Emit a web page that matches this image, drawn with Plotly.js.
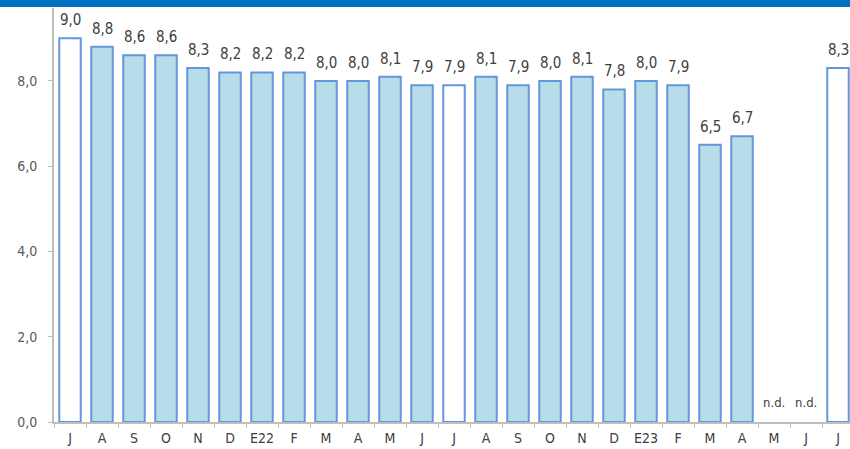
<!DOCTYPE html>
<html><head><meta charset="utf-8">
<script src="https://cdn.plot.ly/plotly-3.0.1.min.js"></script>
<style>html,body{margin:0;padding:0;overflow:hidden;background:#fff;width:850px;height:449px;}
#band{position:absolute;left:0;top:0;width:850px;height:7px;background:#0070C0;z-index:5;}
#chart{position:absolute;left:0;top:0;}</style>
</head><body>
<div id="band"></div>
<div id="chart"></div>
<script>
const monthLabels = ["J","A","S","O","N","D","E22","F","M","A","M","J","J","A","S","O","N","D","E23","F","M","A","M","J","J"];
const values = [9.0,8.8,8.6,8.6,8.3,8.2,8.2,8.2,8.0,8.0,8.1,7.9,7.9,8.1,7.9,8.0,8.1,7.8,8.0,7.9,6.5,6.7,null,null,8.3];
const highlighted = [true,false,false,false,false,false,false,false,false,false,false,false,true,false,false,false,false,false,false,false,false,false,false,false,true];

const idx = monthLabels.map((_, i) => i);
const fillColors = highlighted.map(h => h ? "#FFFFFF" : "#B7DDE8");
const fontFam = "'Liberation Sans Narrow','DejaVu Sans Condensed','Arial Narrow',Roboto,sans-serif";

const annotations = [];
values.forEach((v, i) => {
  if (v === null) {
    annotations.push({x: i, y: 0, xref: 'x', yref: 'y', text: 'n.d.', showarrow: false,
      yanchor: 'bottom', yshift: 10, font: {family: fontFam, size: 13, color: '#404040'}});
  } else {
    annotations.push({x: i, y: v, xref: 'x', yref: 'y', text: v.toFixed(1).replace('.', ','), showarrow: false,
      yanchor: 'bottom', yshift: 7, font: {family: fontFam, size: 15, color: '#404040'}});
  }
});

const trace = {
  type: 'bar', x: idx, y: values,
  marker: {color: fillColors, line: {color: '#6495DD', width: 2}},
  hoverinfo: 'skip'
};

const layout = {
  width: 858, height: 449,
  margin: {l: 54, r: 4, t: 8, b: 27},
  paper_bgcolor: '#fff', plot_bgcolor: '#fff',
  separators: ',.',
  bargap: 0.33,
  showlegend: false,
  xaxis: {type: 'category', tickvals: idx, ticktext: monthLabels, tickson: 'boundaries', tickangle: 0,
    ticks: 'outside', ticklen: 4, tickcolor: '#BFBFBF', showline: true, linecolor: '#BFBFBF', linewidth: 2,
    showgrid: false, zeroline: false, tickfont: {family: fontFam, size: 14, color: '#404040'}, ticklabelstandoff: 2},
  yaxis: {range: [0, 9.71], dtick: 2, tick0: 0, tickformat: '.1f', ticks: 'outside', ticklen: 4, tickcolor: '#BFBFBF',
    showline: true, linecolor: '#BFBFBF', linewidth: 2, showgrid: false, zeroline: false, ticklabelstandoff: 8,
    tickfont: {family: fontFam, size: 14, color: '#595959'}},
  annotations: annotations
};
Plotly.newPlot('chart', [trace], layout, {displayModeBar: false, staticPlot: true});
</script>
</body></html>
